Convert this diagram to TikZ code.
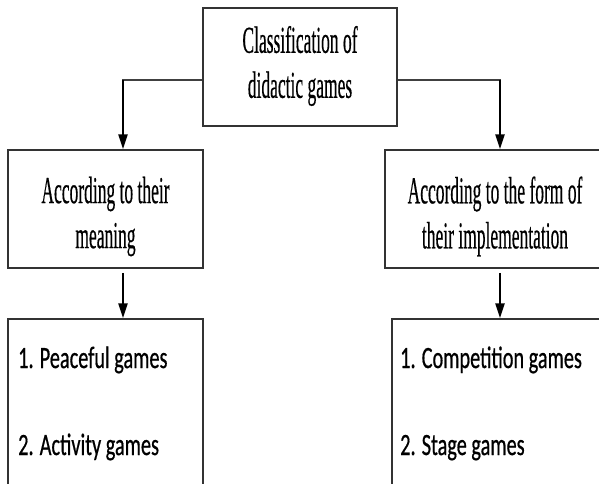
\documentclass[tikz,border=0pt]{standalone}
\usepackage{fontspec}
\usepackage{graphicx}
\setmainfont[FakeBold=0.6]{Liberation Serif}
\newfontfamily\calib[FakeBold=0.8]{Carlito}
\usetikzlibrary{arrows.meta}
\newcommand\sqz[1]{\scalebox{0.46}[1]{#1}}
\newcommand\sqc[1]{\scalebox{0.655}[1]{#1}}
\tikzset{
  boxnode/.style={draw=black!80, line width=1.5pt, inner sep=0pt, fill=none},
  serif/.style={inner sep=0pt, align=center, font=\fontsize{38}{45}\selectfont},
  item/.style={inner sep=0pt, anchor=base west, font=\calib\fontsize{31}{36}\selectfont},
  hline/.style={draw=black!75, line width=1.8pt},
  arr/.style={draw=black, line width=2.6pt, -{Triangle[length=15pt,width=9pt]}}
}
\begin{document}
\begin{tikzpicture}[x=1pt,y=-1pt]
\useasboundingbox (0,0) rectangle (599,483);
% boxes
\node[boxnode, minimum width=194pt, minimum height=118pt] (top) at (300,67) {};
\node[boxnode, minimum width=195pt, minimum height=118pt] (b2l) at (105.5,209) {};
\node[boxnode, minimum width=220pt, minimum height=118pt] (b2r) at (495,209) {};
\node[boxnode, minimum width=195pt, minimum height=220pt] (b3l) at (105.5,429) {};
\node[boxnode, minimum width=228pt, minimum height=220pt] (b3r) at (506,429) {};
% texts
\node[serif] (ttop) at (300,66) {\sqz{Classification of}\\\sqz{didactic games}};
\node[serif] (tb2l) at (105.5,216.5) {\sqz{According to their}\\\sqz{meaning}};
\node[serif] (tb2r) at (495,216.5) {\sqz{According to the form of}\\\sqz{their implementation}};
\node[item] (p1) at (18,368) {\sqc{1. Peaceful games}};
\node[item] (p2) at (18,455) {\sqc{2. Activity games}};
\node[item] (c1) at (400,368) {\sqc{1. Competition games}};
\node[item] (c2) at (400,455) {\sqc{2. Stage games}};
% connectors
\coordinate (lc) at (123,80);
\coordinate (rc) at (500,80);
\draw[hline] ([yshift=-13pt]top.west) -- ([xshift=-1pt]lc);
\draw[hline] ([yshift=-13pt]top.east) -- ([xshift=1pt]rc);
\draw[arr] (lc) -- (lc |- b2l.north);
\draw[arr] (rc) -- (rc |- b2r.north);
\draw[arr, shorten <=4pt] (b2l.south -| lc) -- (b3l.north -| lc);
\draw[arr, shorten <=4pt] (b2r.south -| rc) -- (b3r.north -| rc);
\end{tikzpicture}
\end{document}
